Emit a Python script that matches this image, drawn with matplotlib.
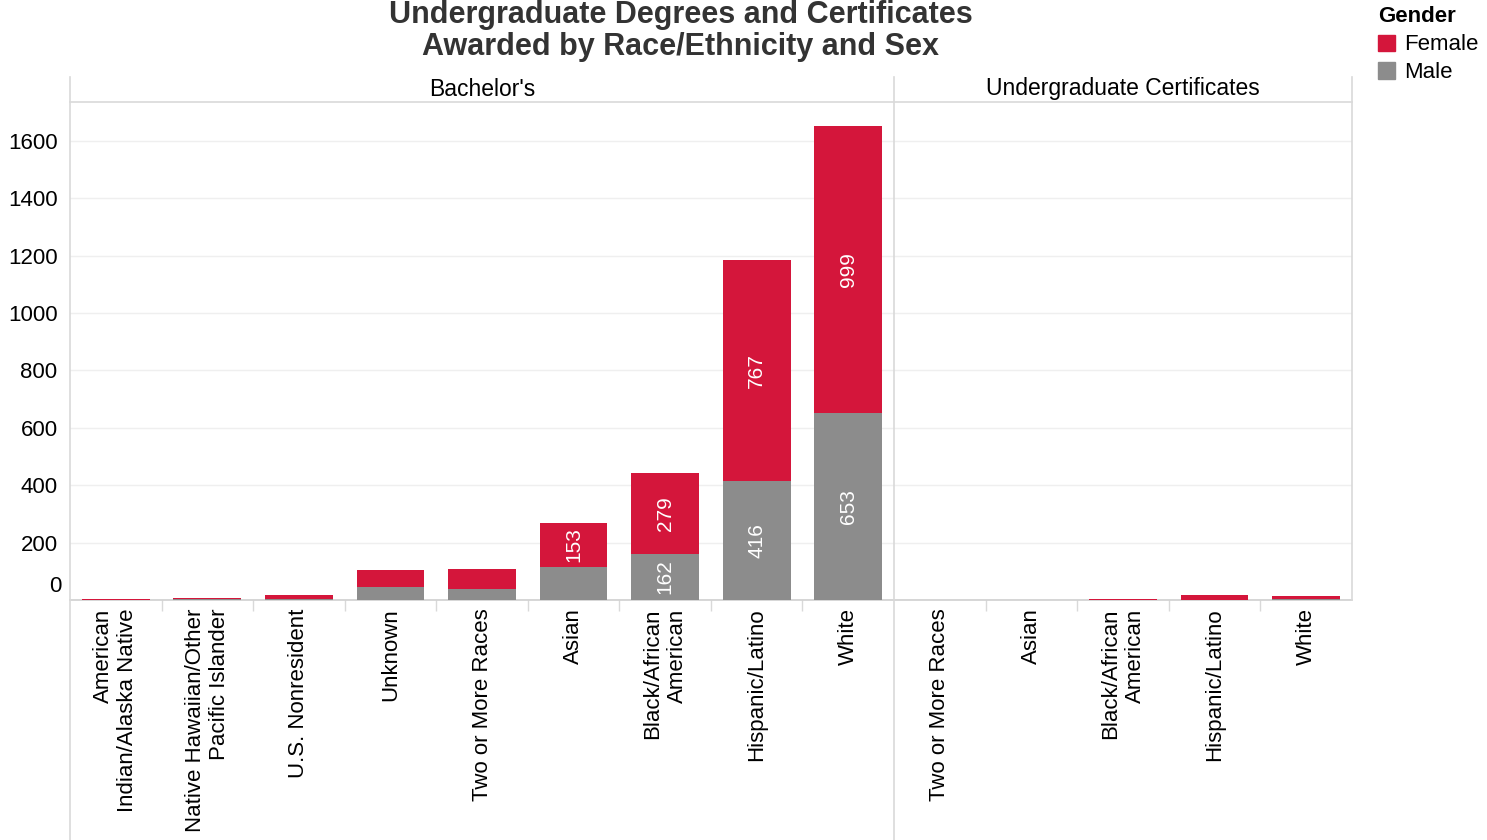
import matplotlib
matplotlib.use("Agg")
import matplotlib.pyplot as plt
from matplotlib.patches import Patch
from matplotlib.lines import Line2D

plt.rcParams['font.family'] = ['Liberation Sans', 'DejaVu Sans']

RED = '#D4163B'
GREY = '#8C8C8C'
LINE = '#D9D9D9'

bach_cats = ['American\nIndian/Alaska Native', 'Native Hawaiian/Other\nPacific Islander',
             'U.S. Nonresident', 'Unknown', 'Two or More Races', 'Asian',
             'Black/African\nAmerican', 'Hispanic/Latino', 'White']
bach_male = [0, 3, 4, 45, 40, 115, 162, 416, 653]
bach_female = [4, 4, 12, 60, 67, 153, 279, 767, 999]

cert_cats = ['Two or More Races', 'Asian', 'Black/African\nAmerican', 'Hispanic/Latino', 'White']
cert_male = [0, 0, 0, 1, 3]
cert_female = [0, 0, 3, 18, 10]

label_min = 150
yticks = [0, 200, 400, 600, 800, 1000, 1200, 1400, 1600]

W, H = 1487, 840
fig = plt.figure(figsize=(W / 100, H / 100), dpi=100)

def fx(px):
    return px / W

def fy(py):
    return 1 - py / H

left, mid, right = 70, 894, 1352
top, base = 102, 600
ax1 = fig.add_axes([fx(left), fy(base), fx(mid - left), fy(top) - fy(base)])
ax2 = fig.add_axes([fx(mid), fy(base), fx(right - mid), fy(top) - fy(base)], sharey=ax1)

ymax = (base - top) / 57.4 * 200

def draw(ax, cats, male, female, show_y):
    n = len(cats)
    xs = list(range(n))
    ax.bar(xs, male, width=0.74, color=GREY, zorder=3)
    ax.bar(xs, female, width=0.74, bottom=male, color=RED, zorder=3)
    for x, m, f in zip(xs, male, female):
        if m >= label_min:
            ax.text(x, m / 2, str(m), rotation=90, ha='center', va='center',
                    color='white', fontsize=15, zorder=4)
        if f >= label_min:
            ax.text(x, m + f / 2, str(f), rotation=90, ha='center', va='center',
                    color='white', fontsize=15, zorder=4)
    ax.set_xlim(-0.5, n - 0.5)
    ax.set_ylim(0, ymax)
    ax.set_xticks(xs)
    ax.set_xticklabels(cats, rotation=90, fontsize=16, multialignment='right')
    ax.set_xticks([i + 0.5 for i in range(n - 1)], minor=True)
    ax.tick_params(axis='x', which='major', length=0, pad=6)
    ax.tick_params(axis='x', which='minor', length=8, color=LINE, width=1)
    ax.set_yticks(yticks)
    ax.set_yticklabels(['' if v == 0 else str(v) for v in yticks])
    ax.yaxis.grid(True, color='#EFEFEF', linewidth=1, zorder=0)
    ax.tick_params(axis='y', length=0, labelsize=16, pad=9)
    if not show_y:
        ax.tick_params(axis='y', labelleft=False)
    for s in ['top', 'right', 'left']:
        ax.spines[s].set_visible(False)
    ax.spines['bottom'].set_color('#CFCFCF')
    ax.spines['bottom'].set_linewidth(1.2)

draw(ax1, bach_cats, bach_male, bach_female, True)
draw(ax2, cert_cats, cert_male, cert_female, False)

# zero label sits slightly above the baseline in the reference
fig.text(fx(61), fy(586), str(yticks[0]), ha='right', va='center', fontsize=16)

# frame lines
for xpx, y0, y1 in [(left, 77, 840), (mid, 77, 840), (right, 77, base)]:
    fig.add_artist(Line2D([fx(xpx), fx(xpx)], [fy(y0), fy(y1)], color=LINE, lw=1.2))
fig.add_artist(Line2D([fx(left), fx(right)], [fy(top), fy(top)], color=LINE, lw=1.2))

fig.text(fx((left + mid) / 2), fy(89), "Bachelor's", ha='center', va='center', fontsize=16.5)
fig.text(fx((mid + right) / 2), fy(89), "Undergraduate Certificates", ha='center', va='center', fontsize=16.5)

fig.text(fx(681), fy(31), "Undergraduate Degrees and Certificates\nAwarded by Race/Ethnicity and Sex",
         ha='center', va='center', fontsize=22, fontweight='bold', color='#333333', linespacing=1.12)

fig.text(fx(1378), fy(17), "Gender", ha='left', va='center', fontsize=16, fontweight='bold')
leg = fig.legend(handles=[Patch(color=RED, label='Female'), Patch(color=GREY, label='Male')],
                 loc='upper left', bbox_to_anchor=(fx(1374), fy(30)), frameon=False,
                 fontsize=16, handlelength=0.75, handleheight=0.75, handletextpad=0.4,
                 labelspacing=0.3, borderaxespad=0, borderpad=0.2)

fig.savefig('out.png', dpi=100)
